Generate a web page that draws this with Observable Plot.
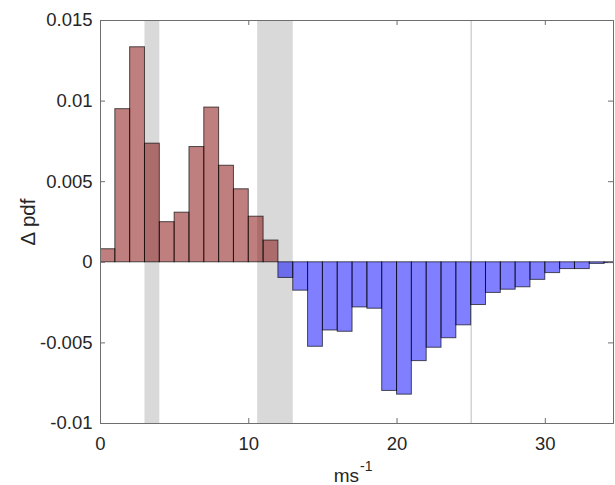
<!DOCTYPE html>
<html>
<head>
<meta charset="utf-8">
<script src="https://cdn.jsdelivr.net/npm/d3@7"></script>
<script src="https://cdn.jsdelivr.net/npm/@observablehq/plot@0.6"></script>
<style>
  html, body { margin: 0; padding: 0; background: #fff; }
</style>
</head>
<body>
<div id="chart"></div>
<script>
// Bin starts (ms^-1), bin width 1
const binStart = [0,1,2,3,4,5,6,7,8,9,10,11,12,13,14,15,16,17,18,19,20,21,22,23,24,25,26,27,28,29,30,31,32,33,34];
// Δ pdf per bin
const dpdf = [0.00081, 0.0095, 0.01334, 0.00736, 0.00249, 0.00308, 0.00715, 0.0096, 0.00599, 0.00453,
              0.00283, 0.00135, -0.00097, -0.00176, -0.00524, -0.00423, -0.00431, -0.0028, -0.00288, -0.00798,
              -0.00821, -0.00613, -0.0053, -0.00471, -0.00391, -0.00265, -0.0019, -0.0017, -0.00155, -0.00109,
              -0.00067, -0.00042, -0.00042, -0.0001, -0.00005];
// shaded bands
const bandStart = [3, 10.6];
const bandEnd = [4, 13];
// vertical reference line
const refLine = [25];
// ticks
const xTicks = [0, 10, 20, 30];
const yTicks = [-0.01, -0.005, 0, 0.005, 0.01, 0.015];
// labels
const yLabel = "Δ pdf";
const xLabelBase = "ms";
const xLabelSup = "-1";

const bars = binStart.map((b, i) => ({x1: b, x2: b + 1, y: dpdf[i]}));
const bands = bandStart.map((s, i) => ({x1: s, x2: bandEnd[i]}));

const W = 615, H = 485, mL = 100, mR = 2, mT = 20, mB = 62;
const fw = W - mL - mR, fh = H - mT - mB;
const axisColor = "#262626";
const lineColor = "#6e6e6e";
const tickLen = 5;

const chart = Plot.plot({
  width: W,
  height: H,
  marginLeft: mL,
  marginRight: mR,
  marginTop: mT,
  marginBottom: mB,
  style: {fontFamily: "'Liberation Sans', Arial, sans-serif", fontSize: "18.5px", color: axisColor, background: "#fff"},
  x: {domain: [0, 34.6]},
  y: {domain: [-0.01, 0.015]},
  marks: [
    Plot.rect(bands, {x1: "x1", x2: "x2", fill: "#d9d9d9"}),
    Plot.ruleX(refLine, {x: d => d, stroke: "#bdbdbd", strokeWidth: 1}),
    Plot.rectY(bars, {
      x1: "x1", x2: "x2", y: "y",
      fill: d => d.y >= 0 ? "#800000" : "#0000ff",
      fillOpacity: 0.5,
      stroke: "#000", strokeOpacity: 0.65, strokeWidth: 1,
      clip: true
    }),
    Plot.frame({stroke: lineColor}),
    // inward ticks
    Plot.ruleX(xTicks, {x: d => d, insetTop: fh - tickLen, stroke: lineColor}),
    Plot.ruleX(xTicks, {x: d => d, insetBottom: fh - tickLen, stroke: lineColor}),
    Plot.ruleY(yTicks, {y: d => d, insetRight: fw - tickLen, stroke: lineColor}),
    Plot.ruleY(yTicks, {y: d => d, insetLeft: fw - tickLen, stroke: lineColor}),
    Plot.axisX({ticks: xTicks, tickSize: 0, tickPadding: 13, tickFormat: d => String(d), label: null}),
    Plot.axisY({ticks: yTicks, tickSize: 0, tickPadding: 8, tickFormat: d => String(d), label: null}),
    // axis labels
    Plot.text([xLabelBase], {text: d => d, frameAnchor: "bottom", textAnchor: "end", dx: 2, dy: 58,
      fontSize: 19, fill: axisColor}),
    Plot.text([xLabelSup], {text: d => d, frameAnchor: "bottom", textAnchor: "start", dx: 3, dy: 47,
      fontSize: 14, fill: axisColor}),
    Plot.text([yLabel], {text: d => d, frameAnchor: "left", rotate: -90, textAnchor: "middle", dx: -72,
      fontSize: 20.5, fill: axisColor})
  ]
});
document.getElementById("chart").appendChild(chart);
</script>
</body>
</html>
